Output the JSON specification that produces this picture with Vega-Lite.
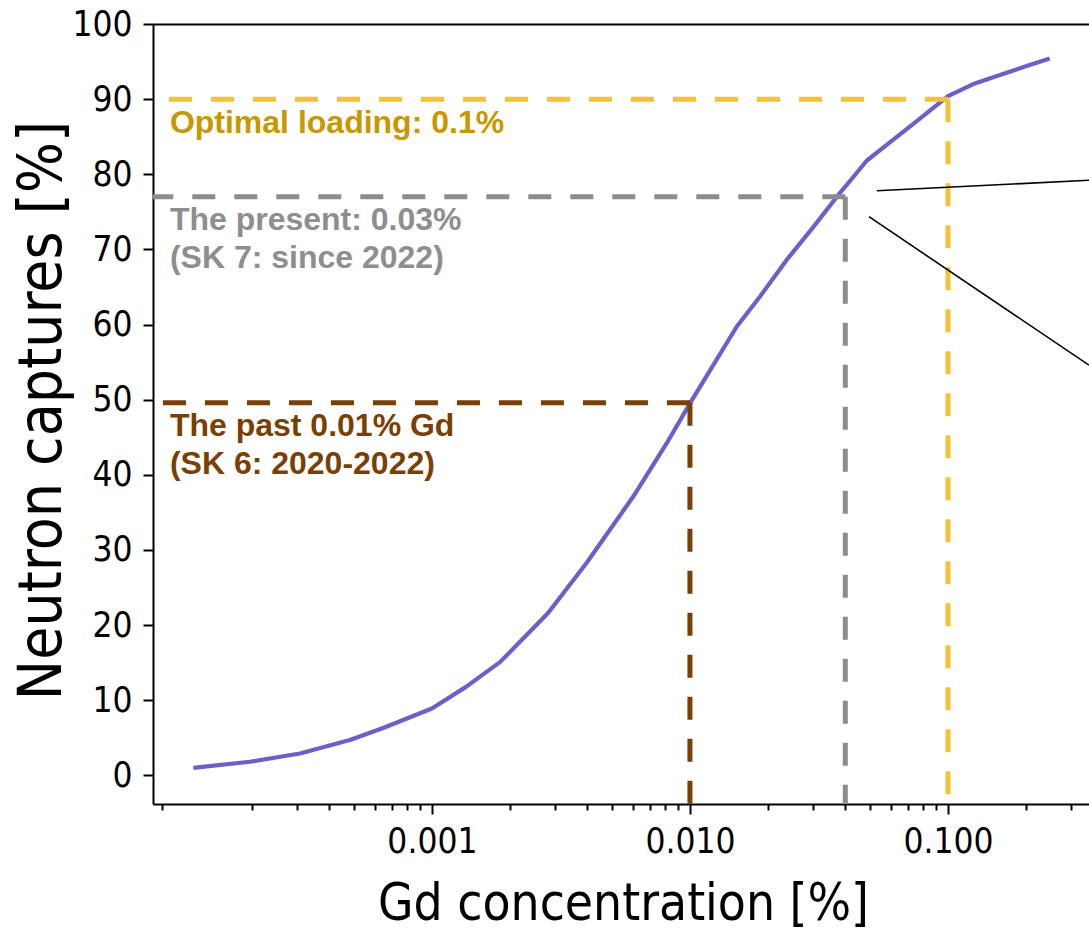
{
  "$schema": "https://vega.github.io/schema/vega-lite/v6.json",
  "width": 936,
  "height": 780,
  "autosize": {"type": "none"},
  "padding": {"left": 153, "top": 24, "right": 0, "bottom": 126},
  "background": "white",
  "config": {
    "view": {"stroke": null},
    "axis": {
      "grid": false,
      "domainColor": "black",
      "tickColor": "black",
      "labelColor": "black",
      "titleColor": "black",
      "labelFont": "DejaVu Sans Condensed, DejaVu Sans",
      "titleFont": "DejaVu Sans Condensed, DejaVu Sans",
      "titleFontWeight": "normal"
    }
  },
  "datasets": {
    "curve": [
      {"conc": 0.000119, "capture": 1.0},
      {"conc": 0.000197, "capture": 1.8},
      {"conc": 0.000308, "capture": 2.9},
      {"conc": 0.000481, "capture": 4.7},
      {"conc": 0.000647, "capture": 6.3},
      {"conc": 0.001, "capture": 8.9},
      {"conc": 0.00136, "capture": 11.8},
      {"conc": 0.00184, "capture": 15.1},
      {"conc": 0.00282, "capture": 21.6},
      {"conc": 0.00398, "capture": 28.3},
      {"conc": 0.00603, "capture": 37.1},
      {"conc": 0.00813, "capture": 44.2},
      {"conc": 0.01, "capture": 49.5},
      {"conc": 0.01517, "capture": 59.7},
      {"conc": 0.01866, "capture": 63.7},
      {"conc": 0.0237, "capture": 68.6},
      {"conc": 0.0301, "capture": 73.0},
      {"conc": 0.0381, "capture": 77.5},
      {"conc": 0.0429, "capture": 79.6},
      {"conc": 0.0484, "capture": 81.8},
      {"conc": 0.0614, "capture": 84.6},
      {"conc": 0.0734, "capture": 86.7},
      {"conc": 0.1, "capture": 90.4},
      {"conc": 0.1253, "capture": 92.0},
      {"conc": 0.159, "capture": 93.2},
      {"conc": 0.2017, "capture": 94.4},
      {"conc": 0.248, "capture": 95.4}
    ],
    "levels": [
      {"conc": 0.1, "capture": 90, "era": "Optimal"},
      {"conc": 0.04, "capture": 77, "era": "Present"},
      {"conc": 0.01, "capture": 49.6, "era": "Past"}
    ],
    "notes": [
      {"conc": 0.0000965, "capture": 85.45, "era": "Optimal", "note": "Optimal loading: 0.1%"},
      {"conc": 0.0000965, "capture": 72.56, "era": "Present", "note": "The present: 0.03%\n(SK 7: since 2022)"},
      {"conc": 0.0000965, "capture": 45.16, "era": "Past", "note": "The past 0.01% Gd\n(SK 6: 2020-2022)"}
    ],
    "pointers": [
      {"conc": 0.053, "capture": 77.8, "line": "upper", "step": 1},
      {"conc": 0.352, "capture": 79.2, "line": "upper", "step": 2},
      {"conc": 0.0494, "capture": 74.35, "line": "lower", "step": 1},
      {"conc": 0.352, "capture": 54.6, "line": "lower", "step": 2}
    ]
  },
  "layer": [
    {
      "data": {"name": "curve"},
      "mark": {"type": "line", "color": "#6A5FCB", "strokeWidth": 4.2, "strokeCap": "butt", "strokeJoin": "round", "clip": true},
      "encoding": {
        "x": {
          "field": "conc",
          "type": "quantitative",
          "scale": {"type": "log", "domain": [0.000083, 0.352], "nice": false, "zero": false},
          "axis": {
            "orient": "bottom",
            "values": [0.001, 0.01, 0.1],
            "format": ".3f",
            "labelFontSize": 35,
            "labelPadding": 10,
            "tickSize": 10,
            "tickWidth": 2,
            "domainWidth": 2,
            "title": "Gd concentration [%]",
            "titleFontSize": 51,
            "titleX": 470,
            "titleY": 115,
            "titleBaseline": "alphabetic",
            "titleAnchor": "middle",
            "titleAlign": "center"
          }
        },
        "y": {
          "field": "capture",
          "type": "quantitative",
          "scale": {"domain": [-3.82, 100], "nice": false, "zero": false},
          "axis": {
            "values": [0, 10, 20, 30, 40, 50, 60, 70, 80, 90, 100],
            "labelFontSize": 35,
            "labelPadding": 11,
            "tickSize": 10,
            "tickWidth": 2,
            "domainWidth": 2,
            "title": "Neutron captures [%]",
            "titleFontSize": 60,
            "titleAngle": 270,
            "titleX": -93,
            "titleY": 386,
            "titleBaseline": "alphabetic",
            "titleAlign": "center"
          }
        }
      }
    },
    {
      "data": {"name": "levels"},
      "mark": {"type": "rule", "strokeWidth": 5, "strokeDash": [23, 19]},
      "encoding": {
        "x": {"field": "conc", "type": "quantitative", "axis": null},
        "x2": {"datum": 0.000083},
        "y": {"field": "capture", "type": "quantitative"},
        "stroke": {
          "field": "era",
          "type": "nominal",
          "scale": {"domain": ["Optimal", "Present", "Past"], "range": ["#F4C234", "#8C8C8C", "#7B3F02"]},
          "legend": null
        }
      }
    },
    {
      "data": {"name": "levels"},
      "mark": {"type": "rule", "strokeWidth": 5, "strokeDash": [23, 19]},
      "encoding": {
        "x": {
          "field": "conc",
          "type": "quantitative",
          "axis": {
            "orient": "bottom",
            "values": [0.00009, 0.0002, 0.0003, 0.0004, 0.0005, 0.0006, 0.0007, 0.0008, 0.0009, 0.002, 0.003, 0.004, 0.005, 0.006, 0.007, 0.008, 0.009, 0.02, 0.03, 0.04, 0.05, 0.06, 0.07, 0.08, 0.09, 0.2, 0.3],
            "labels": false,
            "domain": false,
            "tickSize": 6,
            "tickWidth": 2,
            "title": null
          }
        },
        "y": {"field": "capture", "type": "quantitative"},
        "y2": {"datum": -3.82},
        "stroke": {"field": "era", "type": "nominal", "legend": null}
      }
    },
    {
      "data": {"name": "pointers"},
      "mark": {"type": "line", "color": "black", "strokeWidth": 1.6, "clip": true},
      "encoding": {
        "x": {"field": "conc", "type": "quantitative", "axis": null},
        "y": {"field": "capture", "type": "quantitative"},
        "detail": {"field": "line", "type": "nominal"},
        "order": {"field": "step", "type": "quantitative"}
      }
    },
    {
      "data": {"name": "notes"},
      "mark": {
        "type": "text",
        "align": "left",
        "baseline": "alphabetic",
        "font": "Liberation Sans",
        "fontWeight": "bold",
        "fontSize": 32,
        "lineBreak": "\n",
        "lineHeight": 38
      },
      "encoding": {
        "x": {
          "field": "conc",
          "type": "quantitative",
          "axis": {
            "orient": "top",
            "ticks": false,
            "labels": false,
            "domain": true,
            "domainWidth": 2,
            "title": null
          }
        },
        "y": {"field": "capture", "type": "quantitative"},
        "text": {"field": "note", "type": "nominal"},
        "fill": {
          "field": "era",
          "type": "nominal",
          "scale": {"domain": ["Optimal", "Present", "Past"], "range": ["#C99700", "#8E8E8E", "#7A3F02"]},
          "legend": null
        }
      }
    }
  ],
  "resolve": {"axis": {"x": "independent"}}
}
